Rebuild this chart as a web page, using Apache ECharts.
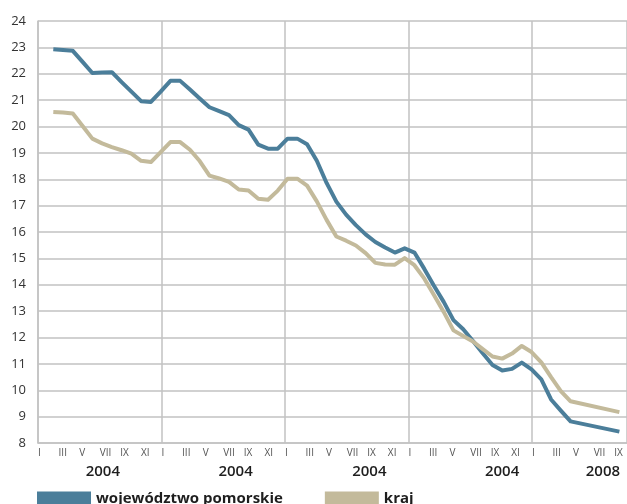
<!DOCTYPE html>
<html>
<head>
<meta charset="utf-8">
<script src="https://cdn.jsdelivr.net/npm/echarts@6/dist/echarts.min.js"></script>
<style>
  html, body { margin: 0; padding: 0; background: #ffffff; }
  #chart { width: 627px; height: 504px; }
</style>
</head>
<body>
<div id="chart"></div>
<script>
// Registered unemployment rate (%), monthly from I 2004; null = month not plotted
const seriesNames = ['województwo pomorskie', 'kraj'];

const pomorskie = [
  22.93, 22.90, 22.87, 22.45, 22.03, 22.05, 22.06, 21.68, 21.32, 20.96, 20.93, 21.32,
  21.73, 21.73, 21.40, 21.06, 20.73, 20.58, 20.43, 20.05, 19.88, 19.31, 19.16, 19.16,
  19.54, 19.54, 19.33, 18.70, 17.86, 17.15, 16.66, 16.26, 15.91, 15.62, 15.41, 15.22,
  15.38, 15.22, 14.61, 13.96, 13.35, 12.66, 12.31, 11.87, 11.40, 10.96, 10.75, 10.81,
  11.05, 10.79, 10.41, 9.65, 9.23, 8.82, null, null, null, null, 8.43
];

const kraj = [
  20.55, 20.53, 20.49, 20.02, 19.54, 19.36, 19.22, 19.10, 18.97, 18.70, 18.65, 19.03,
  19.41, 19.41, 19.12, 18.69, 18.14, 18.03, 17.90, 17.61, 17.57, 17.26, 17.22, 17.57,
  18.02, 18.02, 17.76, 17.16, 16.46, 15.83, 15.67, 15.49, 15.20, 14.83, 14.77, 14.76,
  15.01, 14.74, 14.24, 13.61, 12.97, 12.27, 12.06, 11.85, 11.56, 11.28, 11.20, 11.39,
  11.68, 11.45, 11.06, 10.50, 9.97, 9.58, null, null, null, null, 9.17
];

// Month tick labels (every second month) and year captions under the axis
const monthTicks = ['I', 'III', 'V', 'VII', 'IX', 'XI'];
const yearLabels = ['2004', '2004', '2004', '2004', '2008'];
const yearLabelMonths = [6.3, 19.2, 32.2, 45.1, 54.9];

const yMin = 8, yMax = 24, yStep = 1;

const FONT = '"Open Sans", "Noto Sans", sans-serif';
const GRID_COLOR = '#c2c2c2';
const COLORS = ['#4b7e9a', '#c3ba9b'];

// calendar axis: months counted from I 2004
const calMin = 0, calMax = 57.24;
// plotting axis: monthly observation index
const obsMin = -1.568, obsMax = 58.78;

function toPairs(values) {
  const out = [];
  values.forEach((v, i) => { if (v !== null) out.push([i, v]); });
  return out;
}

const chart = echarts.init(document.getElementById('chart'), null, { renderer: 'canvas' });

chart.setOption({
  animation: false,
  backgroundColor: '#ffffff',
  textStyle: { fontFamily: FONT },
  grid: { left: 38, right: 0, top: 21, bottom: 61, containLabel: false },
  legend: {
    data: seriesNames,
    left: 37,
    top: 491,
    padding: 0,
    icon: 'rect',
    itemWidth: 54,
    itemHeight: 14,
    itemGap: 42,
    selectedMode: false,
    textStyle: { fontFamily: FONT, fontSize: 15, fontWeight: 'bold', color: '#1e1e1e' }
  },
  xAxis: [
    {
      // year boundaries
      type: 'value', position: 'bottom', min: calMin, max: calMax, interval: 12,
      axisLine: { show: true, lineStyle: { color: GRID_COLOR, width: 1.5 } },
      axisTick: { show: false },
      axisLabel: { show: false },
      splitLine: { show: true, lineStyle: { color: GRID_COLOR, width: 1.5 } }
    },
    {
      // month numerals
      type: 'value', position: 'bottom', min: calMin, max: calMax, interval: 2,
      axisLine: { show: false }, axisTick: { show: false }, splitLine: { show: false },
      axisLabel: {
        show: true, align: 'left', margin: 5, fontSize: 10, color: '#555555', fontFamily: FONT,
        showMaxLabel: false,
        formatter: function (v) {
          if (Math.abs(v - Math.round(v)) > 1e-6) return '';
          const m = Math.round(v) % 12;
          return monthTicks[m / 2] || '';
        }
      }
    },
    {
      // year captions
      type: 'value', position: 'bottom', min: calMin, max: calMax,
      axisLine: { show: false }, axisTick: { show: false }, splitLine: { show: false },
      axisLabel: {
        show: true, margin: 21, fontSize: 15, fontWeight: 600, color: '#1e1e1e', fontFamily: FONT,
        customValues: yearLabelMonths,
        formatter: function (v) {
          const k = yearLabelMonths.indexOf(v);
          return k >= 0 ? yearLabels[k] : '';
        }
      }
    },
    {
      // observation axis used by the series
      type: 'value', position: 'bottom', min: obsMin, max: obsMax, show: false
    }
  ],
  yAxis: [
    {
      type: 'value', min: yMin, max: yMax, interval: yStep,
      axisLine: { show: true, lineStyle: { color: GRID_COLOR, width: 1.5 } },
      axisTick: { show: false },
      axisLabel: { margin: 12, fontSize: 13, color: '#333333', fontFamily: FONT },
      splitLine: { show: true, lineStyle: { color: GRID_COLOR, width: 1.5 } }
    }
  ],
  series: [
    {
      name: seriesNames[0], type: 'line', xAxisIndex: 3, yAxisIndex: 0,
      data: toPairs(pomorskie), showSymbol: false, symbol: 'none',
      itemStyle: { color: COLORS[0] },
      lineStyle: { color: COLORS[0], width: 4, join: 'round' }
    },
    {
      name: seriesNames[1], type: 'line', xAxisIndex: 3, yAxisIndex: 0,
      data: toPairs(kraj), showSymbol: false, symbol: 'none',
      itemStyle: { color: COLORS[1] },
      lineStyle: { color: COLORS[1], width: 4, join: 'round' }
    }
  ]
});
</script>
</body>
</html>
